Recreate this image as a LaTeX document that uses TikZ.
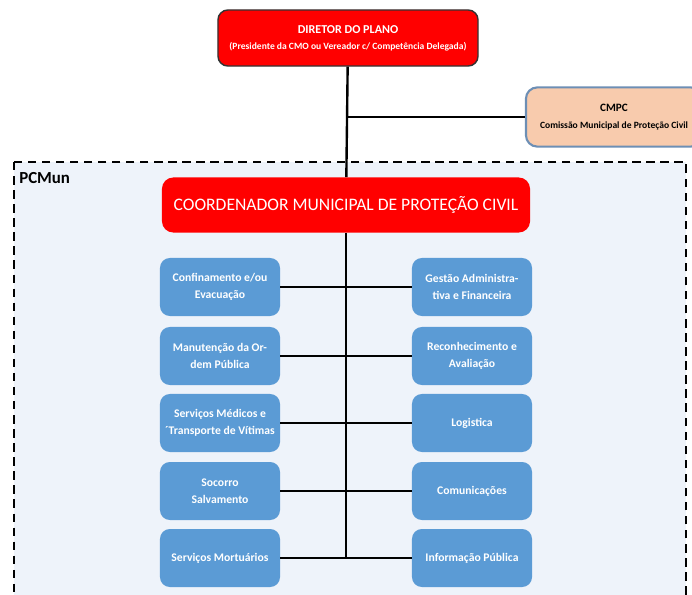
\documentclass[tikz,border=0pt]{standalone}
\usepackage{fontspec}
\setmainfont{Carlito}
\usetikzlibrary{positioning}
\definecolor{mred}{rgb}{1, 0, 0}
\definecolor{mblue}{RGB}{91, 155, 213}
\definecolor{mpeach}{RGB}{248, 203, 173}
\definecolor{mpanel}{RGB}{238, 243, 250}
\definecolor{mgrey}{RGB}{109, 143, 181}
\tikzset{unit/.style = {rounded corners=7pt, fill=mblue, text=white, inner sep=2pt,
                        font=\bfseries\fontsize{8.3}{12}\selectfont, align=center,
                        minimum width=3cm, minimum height=1.45cm},
         link/.style = {line width=1.7pt}}

\begin{document}
\begin{tikzpicture}[x=0.025cm, y=-0.025cm]
      \useasboundingbox (0, 0) rectangle (692, 594);
      \clip (0, 0) rectangle (692, 594);

      \draw [fill=mpanel, line width=1.2pt, dash pattern=on 6pt off 4pt] (14, 162) rectangle (686, 640);
      \node [anchor=north west, inner sep=0pt, font=\bfseries\fontsize{12}{14}\selectfont] (pcmun) at (19, 172) {PCMun};

      \node [fill=mred, draw=black!80, line width=1pt, rounded corners=7pt, text=white, align=center,
             minimum width=6.5cm, minimum height=1.4cm, font=\bfseries\fontsize{8.6}{11.5}\selectfont]
            (diretor) at (348, 38) {DIRETOR DO PLANO\\{\fontsize{6.8}{8}\selectfont(Presidente da CMO ou Vereador c/ Competência Delegada)}};
      \node [fill=mpeach, draw=mgrey, line width=1.5pt, rounded corners=8pt, align=center,
             minimum width=4.4cm, minimum height=1.48cm, font=\bfseries\fontsize{8}{12}\selectfont]
            (cmpc) at (614, 117) {CMPC\\{\fontsize{6.8}{8}\selectfont Comissão Municipal de Proteção Civil}};
      \node [fill=mred, rounded corners=8pt, text=white, minimum width=9.2cm, minimum height=1.375cm,
             font=\fontsize{12.5}{14}\selectfont] (coordenador) at (346, 205) {COORDENADOR MUNICIPAL DE PROTEÇÃO CIVIL};

      \node [unit] (conf) at (220, 287) {Confinamento e/ou\\Evacuação};
      \node [unit] (ordem) at (220, 356) {Manutenção da Or-\\dem Pública};
      \node [unit] (medicos) at (220, 423) {Serviços Médicos e\\´Transporte de Vítimas};
      \node [unit] (socorro) at (220, 491) {Socorro\\Salvamento};
      \node [unit] (mortuarios) at (220, 558) {Serviços Mortuários};

      \node [unit] (gestao) at (472, 287) {Gestão Administra-\\tiva e Financeira};
      \node [unit] (reconhec) at (472, 356) {Reconhecimento e\\Avaliação};
      \node [unit] (logistica) at (472, 423) {Logistica};
      \node [unit] (comunic) at (472, 491) {Comunicações};
      \node [unit] (info) at (472, 558) {Informação Pública};

      \coordinate (fundo) at (coordenador.south |- mortuarios.east);
      \draw [link] (diretor) -- (coordenador);
      \draw [link] (coordenador) -- (fundo);
      \draw [link] (cmpc.west) -- (cmpc.west -| diretor.south);
      \draw [link] (conf) -- (gestao);
      \draw [link] (ordem) -- (reconhec);
      \draw [link] (medicos) -- (logistica);
      \draw [link] (socorro) -- (comunic);
      \draw [link] (mortuarios) -- (info);
    \end{tikzpicture}
\end{document}
